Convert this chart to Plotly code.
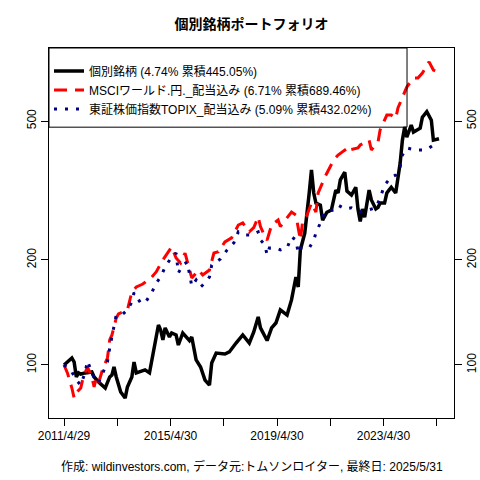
import plotly.graph_objects as go

# values (index, start = 100)
stock_dates = ["2011-04-29", "2011-08-15", "2011-09-15", "2011-10-15", "2011-11-15", "2011-12-15",
               "2012-02-15", "2012-05-15", "2012-06-15", "2012-08-15", "2012-11-15", "2013-01-15",
               "2013-02-15", "2013-03-15", "2013-04-15", "2013-06-15", "2013-08-15", "2013-09-15",
               "2013-11-15", "2013-12-15", "2014-01-15", "2014-02-15", "2014-05-15", "2014-07-15",
               "2014-09-15", "2014-11-15", "2014-12-15", "2015-01-15", "2015-02-15", "2015-04-15",
               "2015-05-15", "2015-07-15", "2015-08-15", "2015-10-15", "2016-01-15", "2016-02-15",
               "2016-04-15", "2016-06-15", "2016-08-15", "2016-10-15", "2016-11-15", "2017-01-15",
               "2017-05-15", "2017-07-15", "2017-10-15", "2018-01-15", "2018-04-15", "2018-06-15",
               "2018-08-15", "2018-09-15", "2018-12-15", "2019-02-15", "2019-04-15", "2019-06-15",
               "2019-09-15", "2019-11-15", "2020-01-15", "2020-02-15", "2020-03-15", "2020-05-15",
               "2020-07-15", "2020-08-15", "2020-09-15", "2020-10-15", "2020-12-15", "2021-01-15",
               "2021-03-15", "2021-05-15", "2021-07-15", "2021-08-15", "2021-09-15", "2021-11-15",
               "2021-12-15", "2022-02-15", "2022-04-15", "2022-05-15", "2022-06-15", "2022-07-15",
               "2022-08-15", "2022-10-15", "2022-11-15", "2023-01-15", "2023-02-15", "2023-03-15",
               "2023-05-15", "2023-06-15", "2023-07-15", "2023-08-15", "2023-10-15", "2023-11-15",
               "2023-12-15", "2024-01-15", "2024-02-15", "2024-03-15", "2024-05-15", "2024-06-15",
               "2024-09-15", "2024-10-15", "2024-12-15", "2025-02-15", "2025-03-15", "2025-05-31"]
stock_vals = [100, 104.7, 102, 92.4, 94.9, 94.2,
              94.9, 95.5, 92.4, 89.4, 85.9, 92.4,
              93.6, 98.7, 92.4, 83.7, 80.4, 86.5,
              92.4, 102, 94.9, 95.5, 96.8, 94.9,
              112.6, 130.2, 126, 118, 127.7, 120.3,
              123.5, 121.9, 114.1, 123.5, 117.5, 120.3,
              103.4, 98.7, 90.5, 87.6, 101.3, 108.2,
              107.5, 109, 115.6, 121.9, 115.6, 124.3,
              137.3, 127.7, 117.5, 127.7, 131.9, 143.8,
              139, 153.6, 178.7, 167.3, 213.6, 238.8,
              311, 362, 311, 291, 287, 260,
              274, 278, 317, 311, 339, 357,
              315, 307, 323, 280, 258, 280,
              265, 317, 297, 280, 283, 291,
              291, 311, 317, 323, 311, 345,
              379, 441, 481, 450, 487, 465,
              477, 513, 532, 503, 441, 445.05]

msci_dates = ["2011-04-29", "2011-06-15", "2011-08-15", "2011-09-15", "2011-10-15", "2011-12-15",
              "2012-01-15", "2012-03-15", "2012-05-15", "2012-06-15", "2012-07-15", "2012-08-15",
              "2012-10-15", "2012-12-15", "2013-01-15", "2013-02-15", "2013-04-15", "2013-05-15",
              "2013-09-15", "2013-11-15", "2014-01-15", "2014-04-15", "2014-08-15", "2014-10-15",
              "2015-01-15", "2015-05-15", "2015-07-15", "2015-09-15", "2015-11-15", "2015-12-15",
              "2016-02-15", "2016-04-15", "2016-05-15", "2016-07-15", "2016-10-15", "2016-12-15",
              "2017-02-15", "2017-05-15", "2017-08-15", "2017-11-15", "2018-01-15", "2018-04-15",
              "2018-06-15", "2018-08-15", "2018-09-15", "2018-11-15", "2018-12-15", "2019-02-15",
              "2019-05-15", "2019-06-15", "2019-09-15", "2019-11-15", "2020-01-15", "2020-03-15",
              "2020-04-15", "2020-06-15", "2020-08-15", "2020-10-15", "2020-11-15", "2021-02-15",
              "2021-06-15", "2021-08-15", "2021-11-15", "2021-12-15", "2022-01-15", "2022-05-15",
              "2022-06-15", "2022-10-15", "2022-11-15", "2023-02-15", "2023-03-15", "2023-06-15",
              "2023-08-15", "2023-10-15", "2023-11-15", "2024-01-15", "2024-03-15", "2024-06-15",
              "2024-08-15", "2024-10-15", "2025-01-15", "2025-03-15", "2025-05-31"]
msci_vals = [100, 94.9, 85.9, 80.4, 83.2, 85.9,
             91.8, 98.7, 92.4, 86.5, 91.8, 88.8,
             98, 104.7, 117.9, 121.9, 136.4, 140,
             143.8, 161.9, 167.3, 170.6, 178.7, 184.7,
             200, 217.9, 202.6, 196, 209.3, 197.3,
             177.6, 183.5, 187.1, 181.1, 187.1, 209.3,
             211, 225.3, 231.3, 251.8, 255.4, 240.7,
             247.5, 265.5, 249.3, 232.9, 228, 251.8,
             260.2, 249.3, 263.6, 274.4, 269, 228.1,
             257.1, 269, 291.2, 274.4, 311.1, 345.6,
             386.5, 399.6, 413, 405, 413, 418.6,
             426.9, 441, 413, 435.8, 471.3, 520.3,
             520.3, 509, 544.9, 581.9, 625.7, 664.3,
             664, 686.5, 739, 700, 689.46]

topix_dates = ["2011-04-29", "2011-08-15", "2011-10-15", "2011-12-15", "2012-02-15", "2012-03-15",
               "2012-05-15", "2012-06-15", "2012-08-15", "2012-10-15", "2012-12-15", "2013-01-15",
               "2013-02-15", "2013-03-15", "2013-04-15", "2013-07-15", "2013-09-15", "2013-11-15",
               "2013-12-15", "2014-03-15", "2014-05-15", "2014-08-15", "2014-10-15", "2014-12-15",
               "2015-02-15", "2015-05-15", "2015-07-15", "2015-08-15", "2015-10-15", "2015-12-15",
               "2016-01-15", "2016-02-15", "2016-04-15", "2016-06-15", "2016-07-15", "2016-10-15",
               "2016-11-15", "2017-03-15", "2017-06-15", "2017-09-15", "2017-11-15", "2018-02-15",
               "2018-05-15", "2018-08-15", "2018-09-15", "2018-11-15", "2018-12-15", "2019-01-15",
               "2019-04-15", "2019-06-15", "2019-09-15", "2019-11-15", "2020-01-15", "2020-02-15",
               "2020-03-15", "2020-07-15", "2020-09-15", "2020-10-15", "2020-12-15", "2021-02-15",
               "2021-06-15", "2021-08-15", "2021-11-15", "2022-02-15", "2022-06-15", "2022-09-15",
               "2023-01-15", "2023-03-15", "2023-05-15", "2023-08-15", "2023-10-15", "2023-12-15",
               "2024-01-15", "2024-03-15", "2024-07-15", "2024-11-15", "2025-01-15", "2025-03-15",
               "2025-05-31"]
topix_vals = [100, 95.5, 90.5, 87.6, 95.5, 102.7,
              95.5, 91.8, 88.8, 94.9, 102, 111.9,
              120.3, 128.5, 139.1, 140, 143.8, 151.5,
              161.2, 150.6, 150.6, 161.2, 171.6, 178.7,
              190.9, 204, 209.3, 183.5, 193.4, 197.3,
              183.5, 168.4, 175.3, 167.3, 169.5, 178.7,
              193.4, 201.3, 213.6, 223.9, 240.7, 235.7,
              235.7, 240.7, 228.1, 220.7, 206.6, 216.3,
              216.3, 213.6, 216.3, 232.9, 228.1, 209.3,
              216.3, 216.3, 228.1, 238.8, 255.4, 274.4,
              278.2, 287.3, 280.2, 282, 274.4, 278.2,
              282, 300.6, 327.9, 345.6, 350.2, 370,
              399.6, 418.6, 413, 413, 418.6, 426.9,
              432.02]

names = ["個別銘柄 (4.74% 累積445.05%)",
         "MSCIワールド.円._配当込み (6.71% 累積689.46%)",
         "東証株価指数TOPIX_配当込み (5.09% 累積432.02%)"]

tick_dates = ["2011-04-29", "2013-04-30", "2015-04-30", "2017-04-30",
              "2019-04-30", "2021-04-30", "2023-04-30", "2025-04-30"]
tick_text = ["2011/4/29", "", "2015/4/30", "", "2019/4/30", "", "2023/4/30", ""]
y_ticks = [100, 200, 500]

font = "Liberation Sans, Noto Sans CJK JP, sans-serif"

fig = go.Figure()
fig.add_trace(go.Scatter(x=stock_dates, y=stock_vals, mode="lines", name=names[0],
                         line=dict(color="black", width=3.5)))
fig.add_trace(go.Scatter(x=msci_dates, y=msci_vals, mode="lines", name=names[1],
                         line=dict(color="red", width=3, dash="13px,8px")))
fig.add_trace(go.Scatter(x=topix_dates, y=topix_vals, mode="lines", name=names[2],
                         line=dict(color="navy", width=3, dash="3px,8px")))
# invisible trace so the right-hand axis gets drawn
fig.add_trace(go.Scatter(x=[stock_dates[0]], y=[stock_vals[0]], yaxis="y2", mode="markers",
                         marker=dict(opacity=0), showlegend=False, hoverinfo="skip"))

fig.update_layout(
    width=480, height=480, autosize=False,
    margin=dict(l=49, r=26, t=48, b=62),
    paper_bgcolor="white", plot_bgcolor="white",
    font=dict(family=font, size=12, color="black"),
    title=dict(text="<b>個別銘柄ポートフォリオ</b>", x=0.5, xref="paper", y=1 - 24 / 480,
               yref="container", yanchor="middle", font=dict(size=14)),
    showlegend=True,
    legend=dict(x=0.0, y=0.977, xanchor="left", yanchor="top", bgcolor="rgba(0,0,0,0)",
                borderwidth=0, font=dict(size=12), tracegroupgap=0),
    xaxis=dict(type="date", range=["2010-10-05", "2025-12-23"],
               tickvals=tick_dates, ticktext=tick_text, tickangle=0,
               ticks="outside", ticklen=7, tickcolor="black", automargin=False,
               showline=True, linecolor="black", mirror=True, showgrid=False, zeroline=False),
    yaxis=dict(type="log", range=[1.8481, 2.9083], tickvals=y_ticks, ticktext=[str(v) for v in y_ticks],
               tickangle=-90, ticks="outside", ticklen=7, tickcolor="black", automargin=False,
               showline=True, linecolor="black", mirror=True, showgrid=False, zeroline=False),
    yaxis2=dict(type="log", range=[1.8481, 2.9083], overlaying="y", side="right",
                tickvals=y_ticks, ticktext=[str(v) for v in y_ticks], tickangle=-90,
                ticks="outside", ticklen=7, tickcolor="black", automargin=False,
                showline=False, showgrid=False, zeroline=False),
)

# legend frame (R style box in the top-left corner)
fig.add_shape(type="rect", xref="paper", yref="paper", x0=0, x1=0.884, y0=0.786, y1=1,
              line=dict(color="black", width=1), fillcolor="rgba(0,0,0,0)")

fig.add_annotation(text="作成: wildinvestors.com, データ元:トムソンロイター, 最終日: 2025/5/31",
                   xref="paper", yref="paper", x=0.5, y=-0.1324, xanchor="center",
                   yanchor="middle", showarrow=False, font=dict(size=12))

# page body has an 8px default margin; drop it so the 480x480 figure fills the window
fig.write_html("out.html", config={"responsive": False, "displayModeBar": False},
               post_script="document.body.style.margin='0';document.body.style.overflow='hidden';")
